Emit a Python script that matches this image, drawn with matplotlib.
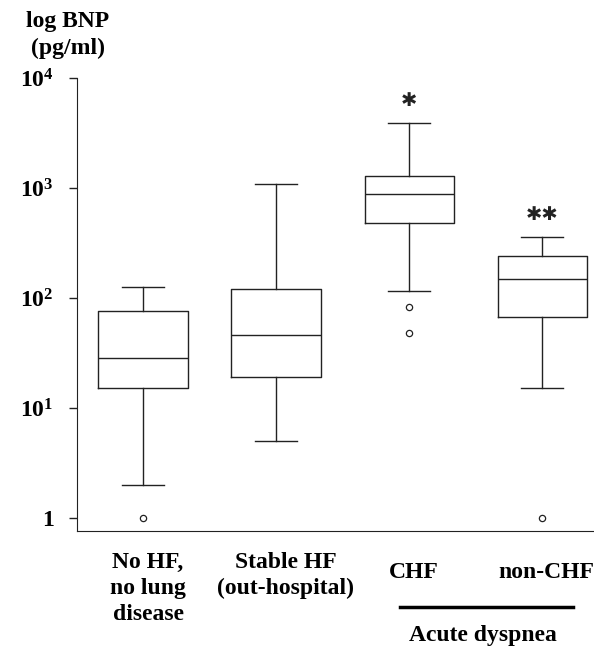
import matplotlib
matplotlib.use('Agg')
import matplotlib.pyplot as plt

plt.rcParams['font.family'] = ['Liberation Serif', 'DejaVu Serif']
plt.rcParams['mathtext.fontset'] = 'custom'
plt.rcParams['mathtext.rm'] = 'Liberation Serif:bold'
plt.rcParams['mathtext.bf'] = 'Liberation Serif:bold'

# values (pg/ml)
groups = ['No HF,\nno lung\ndisease', 'Stable HF\n(out-hospital)', 'CHF', 'non-CHF']
whisker_low = [2.0, 5.0, 116, 15.2]
q1 = [15.2, 19.1, 480, 67]
median = [28.5, 46, 880, 149]
q3 = [76, 120, 1290, 240]
whisker_high = [126, 1087, 3900, 359]
outliers = [[1.0], [], [83, 48], [1.0]]
marks = ['', '', '\u2731', '\u2731\u2731']

stats = []
for i in range(len(groups)):
    stats.append(dict(whislo=whisker_low[i], q1=q1[i], med=median[i], q3=q3[i],
                      whishi=whisker_high[i], fliers=outliers[i]))

fig = plt.figure(figsize=(5.94, 6.51), dpi=100)
ax = fig.add_axes([77 / 594, 1 - 531 / 651, 1 - 77 / 594, (531 - 78) / 651])

lc = '#222222'
ax.bxp(stats, positions=[1, 2, 3, 4], widths=0.67, showfliers=True,
       boxprops=dict(color=lc, linewidth=1.0),
       medianprops=dict(color=lc, linewidth=1.0),
       whiskerprops=dict(color=lc, linewidth=1.0),
       capprops=dict(color=lc, linewidth=1.0),
       capwidths=0.32,
       flierprops=dict(marker='o', markersize=4.5, markerfacecolor='white',
                       markeredgecolor=lc, markeredgewidth=0.9))

ax.set_yscale('log')
ax.set_ylim(10 ** -0.118, 1e4)
ax.set_xlim(0.504, 4.39)
ax.set_yticks([1, 10, 100, 1000, 10000])
ax.set_yticklabels(['1', r'$\mathbf{10^{1}}$', r'$\mathbf{10^{2}}$',
                    r'$\mathbf{10^{3}}$', r'$\mathbf{10^{4}}$'],
                   fontsize=17, fontweight='bold')
ax.minorticks_off()
ax.tick_params(axis='y', length=5.8, width=1.0, color=lc, pad=11)
ax.set_xticks([])
ax.spines['top'].set_visible(False)
ax.spines['right'].set_visible(False)
ax.spines['left'].set_color(lc)
ax.spines['bottom'].set_color(lc)

for i, m in enumerate(marks):
    if m:
        ax.text(i + 1, whisker_high[i] * 10 ** 0.2, m, ha='center', va='center',
                fontsize=14, fontfamily='DejaVu Sans', color=lc)

# y label
fig.text(68 / 594, 1 - 35 / 651, 'log BNP\n(pg/ml)', ha='center', va='center',
         fontsize=17, fontweight='bold', linespacing=1.3)

# category labels
fig.text(148 / 594, 1 - 552 / 651, groups[0], ha='center', va='top',
         fontsize=17, fontweight='bold', linespacing=1.3)
fig.text(286 / 594, 1 - 552 / 651, groups[1], ha='center', va='top',
         fontsize=17, fontweight='bold', linespacing=1.3)
fig.text(414 / 594, 1 - 572 / 651, groups[2], ha='center', va='center',
         fontsize=17, fontweight='bold')
fig.text(546 / 594, 1 - 572 / 651, groups[3], ha='center', va='center',
         fontsize=17, fontweight='bold')
fig.add_artist(plt.Line2D([400 / 594, 573 / 594], [1 - 607 / 651, 1 - 607 / 651],
                          color='black', linewidth=2.5))
fig.text(483 / 594, 1 - 636 / 651, 'Acute dyspnea', ha='center', va='center',
         fontsize=17, fontweight='bold')

fig.savefig('out.png', dpi=100)
